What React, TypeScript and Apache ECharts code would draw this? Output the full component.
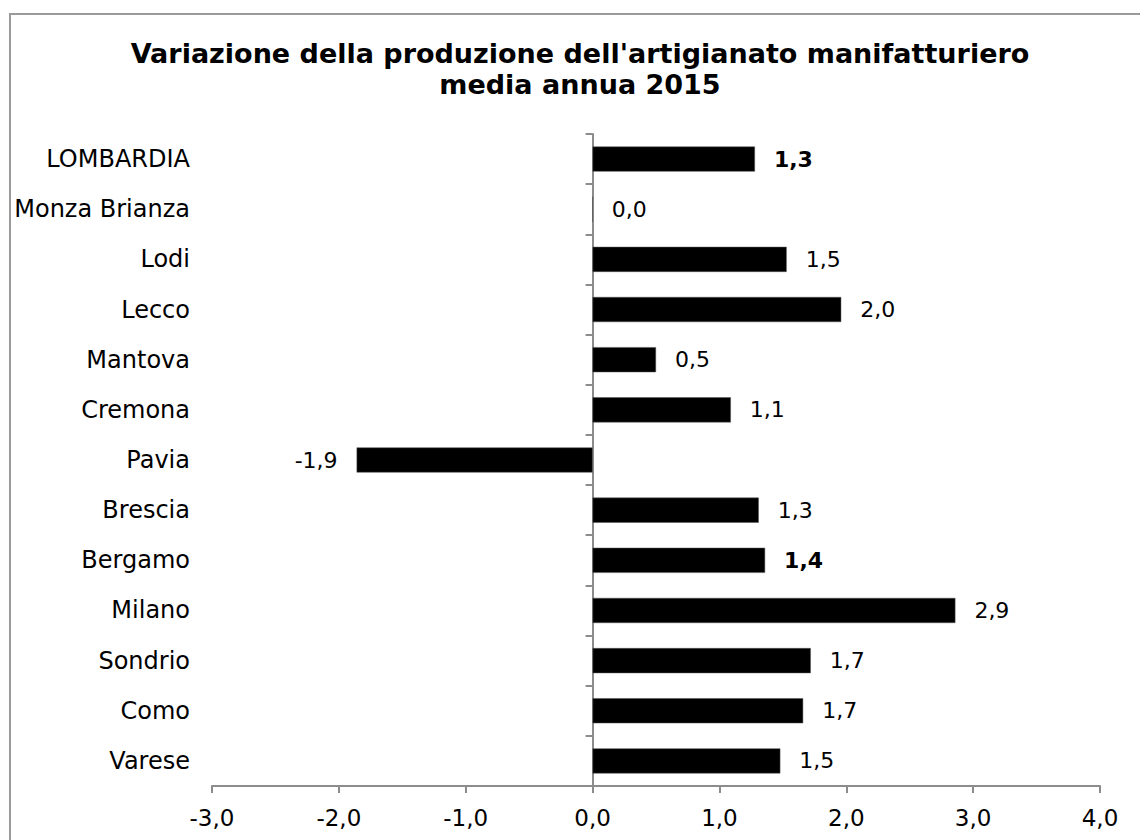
import React, { useEffect, useRef } from "react";
import * as echarts from "echarts";

const categories = [
  "LOMBARDIA",
  "Monza Brianza",
  "Lodi",
  "Lecco",
  "Mantova",
  "Cremona",
  "Pavia",
  "Brescia",
  "Bergamo",
  "Milano",
  "Sondrio",
  "Como",
  "Varese",
];
const values = [1.28, 0.0, 1.53, 1.96, 0.5, 1.09, -1.86, 1.31, 1.36, 2.86, 1.72, 1.66, 1.48];
const boldLabels = ["LOMBARDIA", "Bergamo"];
const xTicks = [-3, -2, -1, 0, 1, 2, 3, 4];
const titleLines = ["Variazione della produzione dell'artigianato manifatturiero", "media annua 2015"];

const FONT = "DejaVu Sans";
const fmt = (v: number) => v.toFixed(1).replace(".", ",");

export default function App() {
  const ref = useRef<HTMLDivElement>(null);
  useEffect(() => {
    document.body.style.margin = "0";
    if (!ref.current) return;
    const chart = echarts.init(ref.current, undefined, { renderer: "svg" });
    chart.setOption({
      animation: false,
      backgroundColor: "#ffffff",
      textStyle: { fontFamily: FONT },
      graphic: [
        {
          type: "rect",
          shape: { x: 10, y: 14, width: 1300, height: 1000 },
          style: { fill: "none", stroke: "#9a9a9a", lineWidth: 2 },
          silent: true,
        },
        {
          type: "text",
          x: 580,
          y: 53,
          style: {
            text: titleLines[0],
            font: `bold 27px "${FONT}"`,
            fill: "#000",
            align: "center",
            verticalAlign: "middle",
          },
        },
        {
          type: "text",
          x: 580,
          y: 84,
          style: {
            text: titleLines[1],
            font: `bold 27px "${FONT}"`,
            fill: "#000",
            align: "center",
            verticalAlign: "middle",
          },
        },
      ],
      grid: { left: 212, right: 40, top: 134, bottom: 54, containLabel: false },
      xAxis: {
        type: "value",
        min: xTicks[0],
        max: xTicks[xTicks.length - 1],
        interval: 1,
        splitLine: { show: false },
        axisLine: { show: true, lineStyle: { color: "#8c8c8c", width: 2 } },
        axisTick: { show: true, length: 7, lineStyle: { color: "#8c8c8c", width: 2 } },
        axisLabel: {
          color: "#000",
          fontSize: 23,
          fontFamily: FONT,
          margin: 20,
          formatter: (v: number) => fmt(v),
        },
      },
      yAxis: [
        {
          type: "category",
          data: categories,
          inverse: true,
          axisLine: { show: true, onZero: true, lineStyle: { color: "#8c8c8c", width: 2 } },
          axisTick: { show: true, length: 7, lineStyle: { color: "#8c8c8c", width: 2 } },
          axisLabel: { show: false },
        },
        {
          type: "category",
          data: categories,
          inverse: true,
          position: "left",
          axisLine: { show: false, onZero: false },
          axisTick: { show: false },
          axisLabel: { show: true, color: "#000", fontSize: 24, fontFamily: FONT, margin: 22 },
        },
      ],
      series: [
        {
          type: "bar",
          yAxisIndex: 0,
          barCategoryGap: "50%",
          data: values.map((v, i) => ({
            value: v,
            label: {
              position: v < 0 ? "left" : "right",
              fontWeight: boldLabels.includes(categories[i]) ? "bold" : "normal",
            },
          })),
          itemStyle: { color: "#000", borderColor: "#555", borderWidth: 0.5 },
          label: {
            show: true,
            position: "right",
            distance: 19,
            color: "#000",
            fontSize: 22,
            fontFamily: FONT,
            formatter: (p: any) => fmt(p.value),
          },
        },
      ],
    });
    return () => chart.dispose();
  }, []);
  return <div ref={ref} style={{ width: 1140, height: 840 }} />;
}
